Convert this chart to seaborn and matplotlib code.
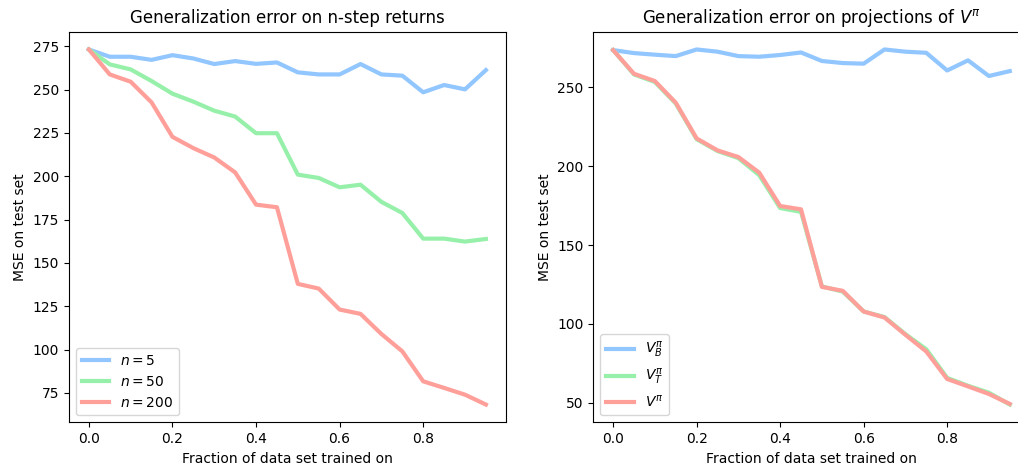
import numpy as np
import pandas as pd
import seaborn as sns
from matplotlib import pyplot as plt

# fraction of data set used for training
frac = [0.0, 0.05, 0.1, 0.15, 0.2, 0.25, 0.3, 0.35, 0.4, 0.45,
        0.5, 0.55, 0.6, 0.65, 0.7, 0.75, 0.8, 0.85, 0.9, 0.95]

# left panel: n-step returns
mse_n5 = [273.1, 268.9, 268.9, 267.1, 269.8, 267.9, 264.7, 266.4, 264.8, 265.6,
          259.9, 258.7, 258.7, 264.7, 258.7, 258.0, 248.4, 252.6, 250.1, 261.2]
mse_n50 = [273.1, 264.5, 261.6, 254.9, 247.6, 243.0, 237.8, 234.4, 224.8, 224.8,
           200.9, 199.0, 193.6, 195.1, 185.2, 178.8, 164.0, 164.0, 162.3, 163.8]
mse_n200 = [273.1, 258.7, 254.5, 242.6, 222.7, 216.2, 210.8, 202.2, 183.6, 182.1,
            137.9, 135.2, 123.1, 120.6, 109.0, 99.0, 81.7, 77.9, 74.0, 68.3]

# right panel: projections of V^pi
mse_vb = [273.4, 271.5, 270.5, 269.6, 273.8, 272.4, 269.6, 269.2, 270.3, 271.9,
          266.5, 265.2, 264.8, 273.8, 272.4, 271.7, 260.5, 266.9, 257.0, 260.1]
mse_vt = [273.4, 258.0, 253.2, 239.6, 217.0, 209.5, 205.0, 194.2, 173.4, 171.0,
          123.8, 120.5, 107.9, 104.4, 93.6, 84.0, 65.9, 60.9, 56.5, 49.0]
mse_v = [273.4, 258.4, 253.8, 240.1, 217.5, 209.9, 205.7, 195.8, 174.7, 172.6,
         123.5, 121.0, 107.9, 104.1, 93.2, 82.6, 65.2, 60.5, 55.7, 49.4]

left_labels = ["$n=5$", "$n=50$", "$n=200$"]
right_labels = [r"$V^\pi_B$", r"$V^\pi_T$", r"$V^\pi$"]

# old seaborn "pastel" palette
palette = ["#92C6FF", "#97F0AA", "#FF9F9A"]
sns.set_palette(palette)

fig = plt.figure(figsize=(10.18, 4.65), dpi=100)
ax1 = fig.add_axes([0.0678, 0.0918, 0.429, 0.840])
ax2 = fig.add_axes([0.5828, 0.0918, 0.4286, 0.840])

for vals, lab, c in zip([mse_n5, mse_n50, mse_n200], left_labels, palette):
    sns.lineplot(x=frac, y=vals, ax=ax1, label=lab, color=c, lw=3)
ax1.set_title("Generalization error on n-step returns", fontsize=12)

for vals, lab, c in zip([mse_vb, mse_vt, mse_v], right_labels, palette):
    sns.lineplot(x=frac, y=vals, ax=ax2, label=lab, color=c, lw=3)
ax2.set_title(r"Generalization error on projections of $V^\pi$", fontsize=12)

for ax in (ax1, ax2):
    ax.set_xlabel("Fraction of data set trained on")
    ax.set_ylabel("MSE on test set")
    ax.set_xticks([0.0, 0.2, 0.4, 0.6, 0.8])
    ax.legend(loc="lower left")

ax1.set_yticks(np.arange(75, 276, 25))
ax2.set_yticks(np.arange(50, 251, 50))

fig.savefig("out.png", dpi=100)
